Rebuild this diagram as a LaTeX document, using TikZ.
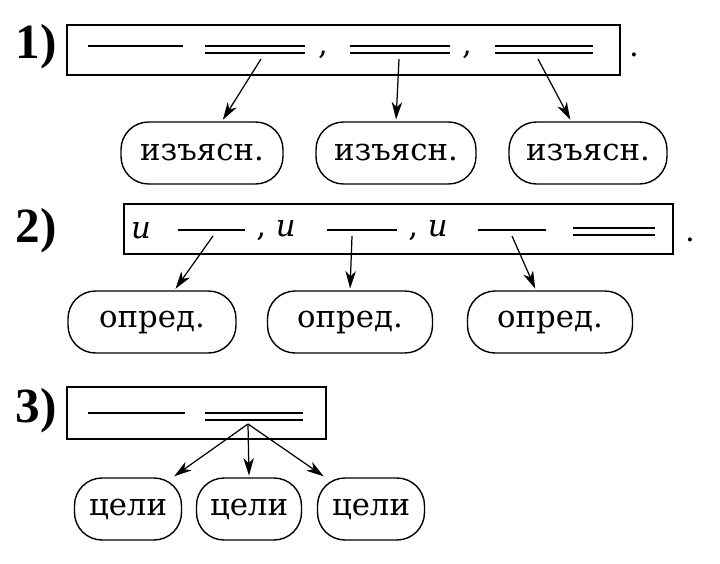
\documentclass[tikz,border=0pt]{standalone}
\usepackage{fontspec}
\setmainfont{DejaVu Serif}
\newfontfamily\numfont{Liberation Serif}
\usetikzlibrary{arrows.meta, positioning}

\tikzset{
  frame/.style={line width=1.1pt},
  stroke/.style={line width=1.3pt},
  num/.style={font=\fontsize{28}{32}\numfont\bfseries},
  oval/.style={draw, line width=0.8pt, rounded corners=0.55cm, minimum height=1.24cm},
  link/.style={->, line width=0.7pt, shorten >=1pt},
}
\newcommand{\dline}[3]{%
  \draw[stroke] (#1,#3) -- (#2,#3);
  \draw[stroke] (#1,#3+7) -- (#2,#3+7);}

\begin{document}
\begin{tikzpicture}[x=0.02cm, y=-0.02cm, >={Stealth[length=10pt, width=6pt, inset=3pt]},
  font=\fontsize{17.5}{21}\selectfont]
\useasboundingbox (0,0) rectangle (720,564);

% 1) three explanatory clauses
\node[num] (n1) at (36,47) {1)};
\draw[frame] (67,25) rectangle (620,75);
\draw[stroke] (88,46) -- (183,46);
\dline{205}{305}{46}
\node (c11) at (323,55) {,};
\dline{350}{450}{46}
\node (c12) at (467,55) {,};
\dline{495}{593}{46}
\node (p1) at (634,55) {.};

\node[oval, minimum width=3.24cm] (e11) at (202,153) {изъясн.};
\node[oval, minimum width=3.2cm] (e12) at (396,153) {изъясн.};
\node[oval, minimum width=3.16cm] (e13) at (588,153) {изъясн.};

\coordinate (a11) at (261,59);
\coordinate (a12) at (399,59);
\coordinate (a13) at (538,59);
\draw[link] (a11) -- (e11);
\draw[link] (a12) -- (e12.north);
\draw[link] (a13) -- (e13);

% 2) three attributive clauses
\node[num] (n2) at (36,231) {2)};
\draw[frame] (124,204) rectangle (673,254);
\node (u21) at (141,231) {\textit{и}};
\draw[stroke] (178,230) -- (245,230);
\node (u22) at (276,231) {, \textit{и}};
\draw[stroke] (327,230) -- (397,230);
\node (u23) at (428,231) {, \textit{и}};
\draw[stroke] (478,230) -- (546,230);
\dline{573}{655}{228}
\node (p2) at (690,240) {.};

\node[oval, minimum width=3.36cm] (e21) at (152,322) {опред.};
\node[oval, minimum width=3.3cm] (e22) at (350,322) {опред.};
\node[oval, minimum width=3.3cm] (e23) at (550,322) {опред.};

\coordinate (a21) at (213,236);
\coordinate (a22) at (352,236);
\coordinate (a23) at (512,236);
\draw[link] (a21) -- (e21);
\draw[link] (a22) -- (e22.north);
\draw[link] (a23) -- (e23);

% 3) three purpose clauses
\node[num] (n3) at (36,411) {3)};
\draw[frame] (67,387) rectangle (326,439);
\draw[stroke] (88,413) -- (185,413);
\dline{205}{303}{413}
\coordinate (a3) at (248,424);

\node[oval, minimum width=2.14cm] (e31) at (128,509) {цели};
\node[oval, minimum width=2.1cm] (e32) at (249,509) {цели};
\node[oval, minimum width=2.14cm] (e33) at (371,509) {цели};

\draw[link] (a3) -- (e31);
\draw[link] (a3) -- (e32.north);
\draw[link] (a3) -- (e33);
\end{tikzpicture}
\end{document}
